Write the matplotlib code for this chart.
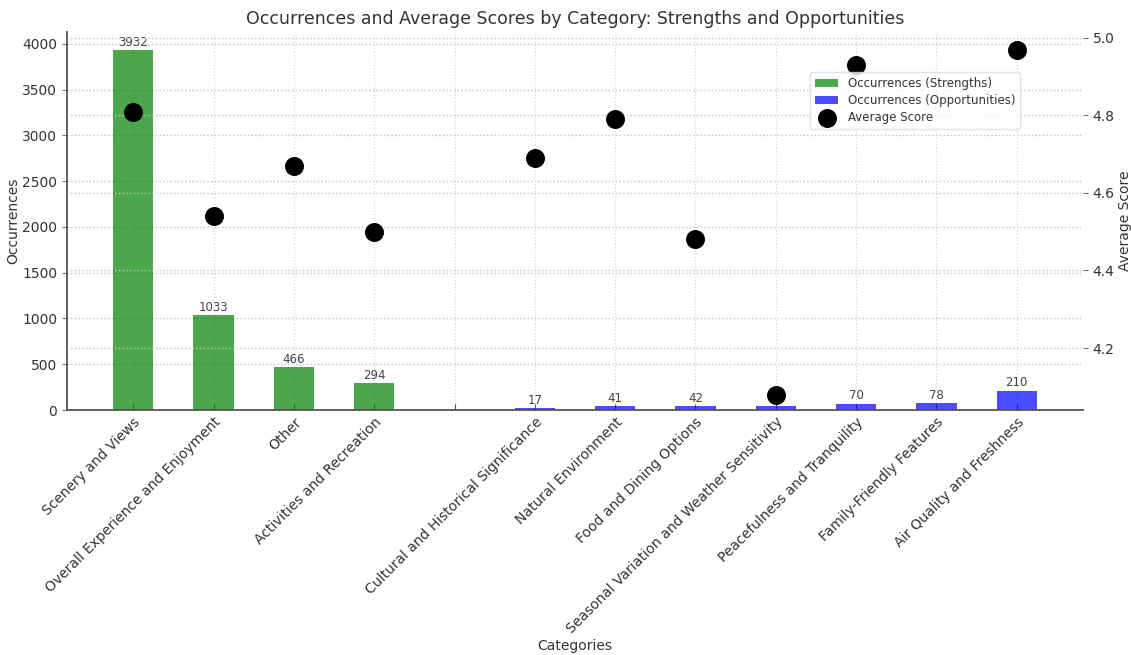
import numpy as np
import matplotlib
matplotlib.use("Agg")
import matplotlib.pyplot as plt

# Category groups
strength_categories = ["Scenery and Views", "Overall Experience and Enjoyment",
                       "Other", "Activities and Recreation"]
strength_counts = [3932, 1033, 466, 294]

opportunity_categories = ["Cultural and Historical Significance", "Natural Environment",
                          "Food and Dining Options", "Seasonal Variation and Weather Sensitivity",
                          "Peacefulness and Tranquility", "Family-Friendly Features",
                          "Air Quality and Freshness"]
opportunity_counts = [17, 41, 42, 48, 70, 78, 210]

# Average score per category (blank separator slot has none)
strength_scores = [4.81, 4.54, 4.67, 4.50]
opportunity_scores = [4.69, 4.79, 4.48, 4.08, 4.93, np.nan, 4.97]

categories = strength_categories + [""] + opportunity_categories
scores = strength_scores + [np.nan] + opportunity_scores

pos = np.arange(len(categories))
s_pos = pos[:len(strength_categories)]
o_pos = pos[len(strength_categories) + 1:]

text_c = "#333333"
fig = plt.figure(figsize=(11.31, 6.55), dpi=100)
ax = fig.add_axes([0.0592, 0.374, 0.8984, 0.577])
ax2 = ax.twinx()

b1 = ax.bar(s_pos, strength_counts, width=0.5, color="green", alpha=0.7,
            label="Occurrences (Strengths)")
b2 = ax.bar(o_pos, opportunity_counts, width=0.5, color="blue", alpha=0.7,
            label="Occurrences (Opportunities)")
for bars, vals in ((b1, strength_counts), (b2, opportunity_counts)):
    ax.bar_label(bars, labels=[str(v) for v in vals], fontsize=8.5, color="#444444", padding=1)

sc = ax2.scatter(pos, scores, s=160, color="black", zorder=5, label="Average Score")

ax.set_xticks(pos, categories, rotation=45, ha="right", rotation_mode="anchor",
              fontsize=10, color=text_c)
ax.set_ylim(0, 3932 * 1.05)
ax2.set_ylim(4.04, 5.015)
ax2.set_yticks([4.2, 4.4, 4.6, 4.8, 5.0])

ax.grid(True, axis="y", linestyle=":", color="#c4c4c4", linewidth=1.0)
ax.grid(True, axis="x", linestyle=":", color="#d8d8d8", linewidth=0.9)
ax2.grid(True, axis="y", linestyle=":", color="#c4c4c4", linewidth=1.0)
ax.set_axisbelow(True)

for a in (ax, ax2):
    for side in ("top", "right"):
        a.spines[side].set_visible(False)
ax2.spines["left"].set_visible(False)
ax2.spines["bottom"].set_visible(False)
ax.spines["left"].set_color("#555555")
ax.spines["bottom"].set_color("#555555")
ax.spines["left"].set_linewidth(1.3)
ax.spines["bottom"].set_linewidth(1.3)

ax.tick_params(axis="x", direction="in", length=4, color="#555555")
ax.tick_params(axis="y", labelsize=10, labelcolor=text_c, color="#777777")
ax2.tick_params(axis="y", labelsize=10, labelcolor=text_c, color="#777777")

ax.set_xlabel("Categories", fontsize=10, color=text_c, labelpad=2)
ax.set_ylabel("Occurrences", fontsize=10, color=text_c, labelpad=1)
ax2.set_ylabel("Average Score", fontsize=10, color=text_c, labelpad=2)
ax.set_title("Occurrences and Average Scores by Category: Strengths and Opportunities",
             fontsize=12.5, color=text_c, pad=6)

handles = [b1, b2, sc]
ax2.legend(handles, [h.get_label() for h in handles], loc="upper right",
           bbox_to_anchor=(0.938, 0.894), borderaxespad=0, fontsize=8.5,
           labelcolor=text_c, framealpha=0.8, edgecolor="#dddddd", labelspacing=0.35)

fig.savefig("out.png", dpi=100)
